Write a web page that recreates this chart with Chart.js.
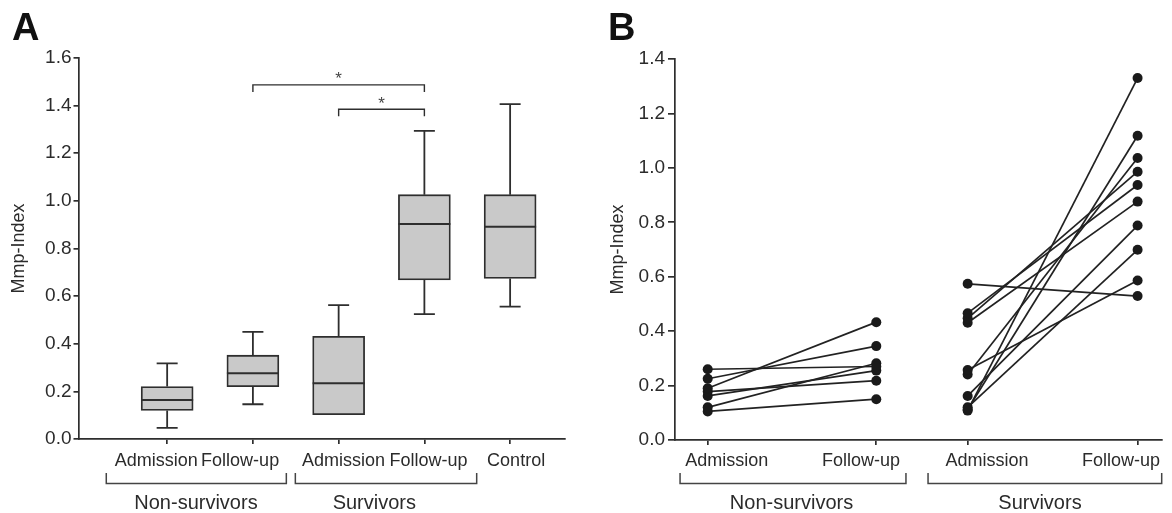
<!DOCTYPE html>
<html>
<head>
<meta charset="utf-8">
<script src="https://cdn.jsdelivr.net/npm/chart.js@4.4.1/dist/chart.umd.min.js"></script>
<style>
  html, body { margin: 0; padding: 0; background: #fff; }
  #wrap { position: relative; width: 1172px; height: 513px; overflow: hidden; }
  canvas { position: absolute; top: 0; }
  #chartA { left: 0; }
  #chartB { left: 580px; }
</style>
</head>
<body>
<div id="wrap">
  <canvas id="chartA" width="580" height="513"></canvas>
  <canvas id="chartB" width="592" height="513"></canvas>
</div>
<script>
// ---------- DATA ----------

// Panel A: box plots (Mmp-Index)
const boxLabels = ["Admission", "Follow-up", "Admission", "Follow-up", "Control"];
const boxMin    = [0.047, 0.146, 0.102, 0.524, 0.556];
const boxQ1     = [0.120, 0.220, 0.102, 0.668, 0.674];
const boxMedian = [0.164, 0.276, 0.234, 0.903, 0.891];
const boxQ3     = [0.220, 0.352, 0.431, 1.026, 1.026];
const boxMax    = [0.318, 0.450, 0.562, 1.294, 1.406];
const yTicksA   = [0, 0.2, 0.4, 0.6, 0.8, 1.0, 1.2, 1.4, 1.6];

// significance brackets: [from box, to box, level]
const sigFrom  = [2, 3];
const sigTo    = [4, 4];
const sigLevel = [1.487, 1.385];

// Panel B: paired values per patient
const nsAdmission = [0.26, 0.225, 0.19, 0.178, 0.162, 0.12, 0.105];
const nsFollowup  = [0.27, 0.345, 0.433, 0.218, 0.255, 0.282, 0.15];
const sAdmission  = [0.574, 0.466, 0.447, 0.431, 0.257, 0.241, 0.162, 0.12, 0.108, 0.112];
const sFollowup   = [0.529, 0.937, 0.986, 0.876, 0.586, 1.036, 0.788, 0.699, 1.33, 1.118];
const pairLabels  = ["Admission", "Follow-up", "Admission", "Follow-up"];
const yTicksB     = [0, 0.2, 0.4, 0.6, 0.8, 1.0, 1.2, 1.4];

// ---------- LAYOUT ----------

const FONT = "'Liberation Sans', Arial, Helvetica, sans-serif";
const INK = "#2b2b2b";
const LINE = "#2e2e2e";

// x positions (scale units) of the B categories
const posB = [0, 1, 1.542, 2.55];

// where labels/brackets sit below the axes, in x scale units
const labelPosA = [0.873, 1.851, 3.058, 4.049, 5.07];
const labelPosB = [0.113, 0.909, 1.657, 2.451];
const groupsA = [
  { name: "Non-survivors", from: 0.29, to: 2.39, at: 1.336 },
  { name: "Survivors", from: 2.495, to: 4.61, at: 3.416 }
];
const groupsB = [
  { name: "Non-survivors", from: -0.164, to: 1.176, at: 0.497 },
  { name: "Survivors", from: 1.307, to: 2.693, at: 1.971 }
];

Chart.defaults.font.family = FONT;
Chart.defaults.color = INK;

function drawUnderAxis(chart, labels, labelPos, groups) {
  const { ctx, scales: { x } } = chart;
  ctx.save();
  ctx.fillStyle = INK;
  ctx.textAlign = "center";
  ctx.textBaseline = "middle";
  ctx.font = "18px " + FONT;
  labels.forEach((t, i) => ctx.fillText(t, x.getPixelForValue(labelPos[i]), 461));

  ctx.strokeStyle = "#444";
  ctx.lineWidth = 1.5;
  groups.forEach(g => {
    const x1 = x.getPixelForValue(g.from);
    const x2 = x.getPixelForValue(g.to);
    ctx.beginPath();
    ctx.moveTo(x1, 473);
    ctx.lineTo(x1, 483.5);
    ctx.lineTo(x2, 483.5);
    ctx.lineTo(x2, 473);
    ctx.stroke();
  });
  ctx.font = "20px " + FONT;
  groups.forEach(g => ctx.fillText(g.name, x.getPixelForValue(g.at), 503));
  ctx.restore();
}

function panelLetter(chart, letter, px) {
  const ctx = chart.ctx;
  ctx.save();
  ctx.fillStyle = "#111";
  ctx.font = "bold 38px " + FONT;
  ctx.textAlign = "left";
  ctx.textBaseline = "alphabetic";
  ctx.fillText(letter, px, 40);
  ctx.restore();
}

// ---------- PLUGINS ----------

const boxPlugin = {
  id: "boxParts",
  afterDatasetsDraw(chart) {
    const { ctx, scales: { x, y } } = chart;
    const halfBox = 26, halfCap = 10.5;
    ctx.save();
    ctx.strokeStyle = LINE;
    ctx.lineWidth = 1.8;
    boxLabels.forEach((_, i) => {
      const cx = x.getPixelForValue(i + 1);
      ctx.beginPath();
      // upper whisker
      ctx.moveTo(cx, y.getPixelForValue(boxQ3[i]));
      ctx.lineTo(cx, y.getPixelForValue(boxMax[i]));
      ctx.moveTo(cx - halfCap, y.getPixelForValue(boxMax[i]));
      ctx.lineTo(cx + halfCap, y.getPixelForValue(boxMax[i]));
      // lower whisker
      if (boxMin[i] < boxQ1[i]) {
        ctx.moveTo(cx, y.getPixelForValue(boxQ1[i]));
        ctx.lineTo(cx, y.getPixelForValue(boxMin[i]));
        ctx.moveTo(cx - halfCap, y.getPixelForValue(boxMin[i]));
        ctx.lineTo(cx + halfCap, y.getPixelForValue(boxMin[i]));
      }
      ctx.stroke();
      // median
      ctx.beginPath();
      ctx.lineWidth = 2;
      ctx.moveTo(cx - halfBox, y.getPixelForValue(boxMedian[i]));
      ctx.lineTo(cx + halfBox, y.getPixelForValue(boxMedian[i]));
      ctx.stroke();
      ctx.lineWidth = 1.8;
    });

    // significance brackets
    ctx.lineWidth = 1.4;
    ctx.fillStyle = "#444";
    ctx.font = "17px " + FONT;
    ctx.textAlign = "center";
    ctx.textBaseline = "alphabetic";
    sigLevel.forEach((lv, i) => {
      const x1 = x.getPixelForValue(sigFrom[i]);
      const x2 = x.getPixelForValue(sigTo[i]);
      const yy = y.getPixelForValue(lv);
      ctx.beginPath();
      ctx.moveTo(x1, yy + 7);
      ctx.lineTo(x1, yy);
      ctx.lineTo(x2, yy);
      ctx.lineTo(x2, yy + 7);
      ctx.stroke();
      ctx.fillText("*", (x1 + x2) / 2, yy - 0.5);
    });
    ctx.restore();
  },
  afterDraw(chart) {
    drawUnderAxis(chart, boxLabels, labelPosA, groupsA);
    panelLetter(chart, "A", 12);
  }
};

const pairPlugin = {
  id: "pairParts",
  afterDraw(chart) {
    drawUnderAxis(chart, pairLabels, labelPosB, groupsB);
    panelLetter(chart, "B", 28);
  }
};

// ---------- SHARED AXIS OPTIONS ----------

function yAxis(ticksList, max, width, tickPad, tickLen) {
  return {
    type: "linear",
    min: 0,
    max: max,
    afterBuildTicks: s => { s.ticks = ticksList.map(v => ({ value: v })); },
    afterFit: s => { s.width = width; },
    border: { display: true, color: LINE, width: 1.7 },
    grid: { display: true, drawOnChartArea: false, color: LINE, lineWidth: 1.7, tickLength: tickLen },
    ticks: {
      color: INK,
      padding: tickPad,
      font: { size: 19 },
      callback: v => v.toFixed(1)
    },
    title: {
      display: true,
      text: "Mmp-Index",
      color: INK,
      font: { size: 18 },
      padding: { top: 4, bottom: 4 }
    }
  };
}

function xAxis(min, max, tickValues, height) {
  return {
    type: "linear",
    min: min,
    max: max,
    offset: false,
    afterBuildTicks: s => { s.ticks = tickValues.map(v => ({ value: v })); },
    afterFit: s => { s.height = height; },
    border: { display: true, color: LINE, width: 1.7 },
    grid: { display: true, offset: false, drawOnChartArea: false, color: LINE, lineWidth: 1.7, tickLength: 5 },
    ticks: { display: false }
  };
}

// ---------- PANEL A ----------

new Chart(document.getElementById("chartA"), {
  type: "bar",
  data: {
    datasets: [{
      data: boxLabels.map((_, i) => ({ x: i + 1, y: [boxQ1[i], boxQ3[i]] })),
      backgroundColor: "#c9c9c9",
      borderColor: LINE,
      borderWidth: 1.8,
      borderSkipped: false,
      barThickness: 52
    }]
  },
  options: {
    responsive: false,
    devicePixelRatio: 1,
    animation: false,
    layout: { padding: { left: 4, right: 15, top: 58, bottom: 0 } },
    plugins: { legend: { display: false }, tooltip: { enabled: false } },
    scales: {
      x: xAxis(-0.034, 5.64, [1, 2, 3, 4, 5], 74),
      y: yAxis(yTicksA, 1.6, 74.5, 2, 5)
    }
  },
  plugins: [boxPlugin]
});

// ---------- PANEL B ----------

const pairSets = [];
nsAdmission.forEach((v, i) => {
  pairSets.push([{ x: posB[0], y: v }, { x: posB[1], y: nsFollowup[i] }]);
});
sAdmission.forEach((v, i) => {
  pairSets.push([{ x: posB[2], y: v }, { x: posB[3], y: sFollowup[i] }]);
});

new Chart(document.getElementById("chartB"), {
  type: "scatter",
  data: {
    datasets: pairSets.map(pts => ({
      data: pts,
      showLine: true,
      borderColor: "#222",
      borderWidth: 1.7,
      backgroundColor: "#1a1a1a",
      pointBackgroundColor: "#1a1a1a",
      pointBorderColor: "#1a1a1a",
      pointRadius: 5,
      pointBorderWidth: 0,
      clip: false
    }))
  },
  options: {
    responsive: false,
    devicePixelRatio: 1,
    animation: false,
    layout: { padding: { left: 23, right: 10.3, top: 59, bottom: 0 } },
    plugins: { legend: { display: false }, tooltip: { enabled: false } },
    scales: {
      x: xAxis(-0.194, 2.693, posB, 73),
      y: yAxis(yTicksB, 1.4, 72, 3, 7)
    }
  },
  plugins: [pairPlugin]
});
</script>
</body>
</html>
